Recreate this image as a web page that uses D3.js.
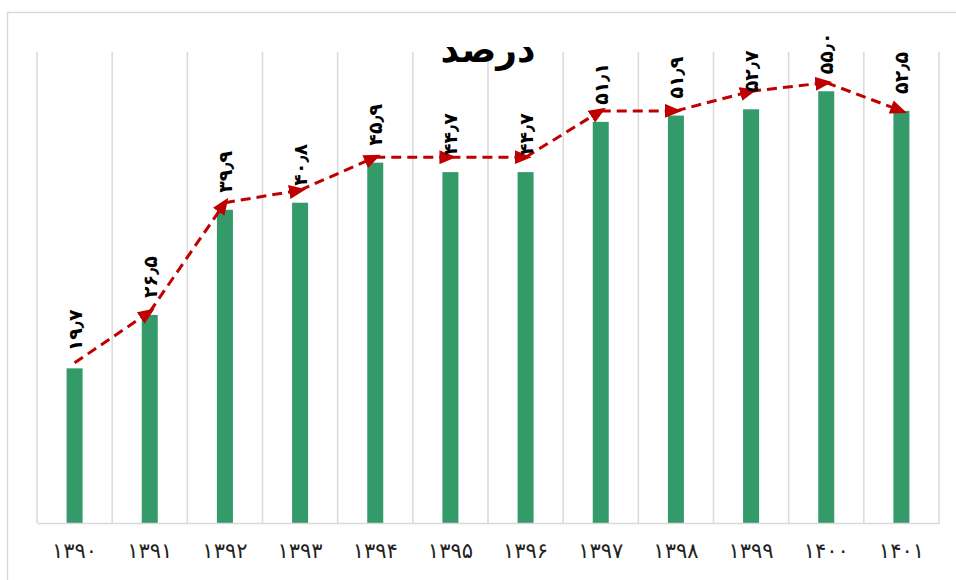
<!DOCTYPE html>
<html>
<head>
<meta charset="utf-8">
<script src="https://cdn.jsdelivr.net/npm/d3@7"></script>
<style>
  body { margin: 0; background: #fff; }
  svg { display: block; font-family: "DejaVu Sans", sans-serif; }
</style>
</head>
<body>
<div id="chart"></div>
<script>
// data
const years = ["۱۳۹۰", "۱۳۹۱", "۱۳۹۲", "۱۳۹۳", "۱۳۹۴", "۱۳۹۵", "۱۳۹۶", "۱۳۹۷", "۱۳۹۸", "۱۳۹۹", "۱۴۰۰", "۱۴۰۱"];
const barValues = [19.7, 26.5, 39.9, 40.8, 45.9, 44.7, 44.7, 51.1, 51.9, 52.7, 55.0, 52.5];
const barLabels = ["۱۹٫۷", "۲۶٫۵", "۳۹٫۹", "۴۰٫۸", "۴۵٫۹", "۴۴٫۷", "۴۴٫۷", "۵۱٫۱", "۵۱٫۹", "۵۲٫۷", "۵۵٫۰", "۵۲٫۵"];
// trend arrows drawn a bit above the bars
const trendValues = [20.4, 26.9, 40.8, 42.4, 46.6, 46.6, 46.6, 52.5, 52.5, 55.0, 56.1, 52.5];
const titleText = "درصد";

const W = 956, H = 580;
const plotLeft = 37, plotRight = 939, plotTop = 52, plotBottom = 523;

const svg = d3.select("#chart").append("svg")
    .attr("width", W)
    .attr("height", H);

// outer chart border
svg.append("rect")
    .attr("x", 7.5).attr("y", 12.5)
    .attr("width", 970).attr("height", 620)
    .attr("fill", "none")
    .attr("stroke", "#d9d9d9")
    .attr("stroke-width", 1.5);

const x = d3.scaleBand()
    .domain(years)
    .range([plotLeft, plotRight])
    .paddingInner(0.787)
    .paddingOuter(0.3935);

const y = d3.scaleLinear()
    .domain([0, 60])
    .range([plotBottom, plotTop]);

const step = x.step();

// vertical gridlines at category boundaries
const bounds = d3.range(years.length + 1).map(i => plotLeft + i * step);
svg.append("g").selectAll("line")
    .data(bounds)
    .join("line")
    .attr("x1", d => d).attr("x2", d => d)
    .attr("y1", y(60)).attr("y2", y(0))
    .attr("stroke", "#d9d9d9")
    .attr("stroke-width", 1.5);

// bars
svg.append("g").selectAll("rect")
    .data(barValues)
    .join("rect")
    .attr("x", (d, i) => x(years[i]))
    .attr("y", d => y(d))
    .attr("width", x.bandwidth())
    .attr("height", d => y(0) - y(d))
    .attr("fill", "#359a69");

// category axis
const xAxis = svg.append("g")
    .attr("transform", `translate(0,${plotBottom})`)
    .call(d3.axisBottom(x).tickSize(0).tickPadding(20));
xAxis.select(".domain").attr("stroke", "#d9d9d9").attr("stroke-width", 1.5);
xAxis.selectAll("text")
    .attr("font-family", "DejaVu Sans, sans-serif")
    .attr("font-size", 21)
    .attr("letter-spacing", "5px")
    .attr("fill", "#222");

// arrow head
svg.append("defs").append("marker")
    .attr("id", "arrow")
    .attr("viewBox", "0 0 17 14")
    .attr("refX", 11)
    .attr("refY", 7)
    .attr("markerUnits", "userSpaceOnUse")
    .attr("markerWidth", 17)
    .attr("markerHeight", 14)
    .attr("orient", "auto")
    .append("path")
    .attr("d", "M0,0 L17,7 L0,14 Z")
    .attr("fill", "#c00000");

const pts = trendValues.map((v, i) => [x(years[i]) + x.bandwidth() / 2, y(v)]);
const line = d3.line();
svg.append("g").selectAll("path")
    .data(d3.pairs(pts))
    .join("path")
    .attr("d", d => line(d))
    .attr("fill", "none")
    .attr("stroke", "#c00000")
    .attr("stroke-width", 3)
    .attr("stroke-dasharray", "10,6")
    .attr("marker-end", "url(#arrow)");

// value labels, rotated
svg.append("g").selectAll("text")
    .data(barValues)
    .join("text")
    .attr("transform", (d, i) => `translate(${x(years[i]) + x.bandwidth() / 2},${y(d) - 17}) rotate(-90)`)
    .attr("text-anchor", "start")
    .attr("dominant-baseline", "central")
    .attr("font-size", 19)
    .attr("font-weight", "bold")
    .attr("fill", "#000")
    .text((d, i) => barLabels[i]);

// title
svg.append("text")
    .attr("x", (plotLeft + plotRight) / 2)
    .attr("y", 62)
    .attr("text-anchor", "middle")
    .attr("font-size", 36)
    .attr("font-weight", "bold")
    .attr("fill", "#000")
    .text(titleText);
</script>
</body>
</html>
